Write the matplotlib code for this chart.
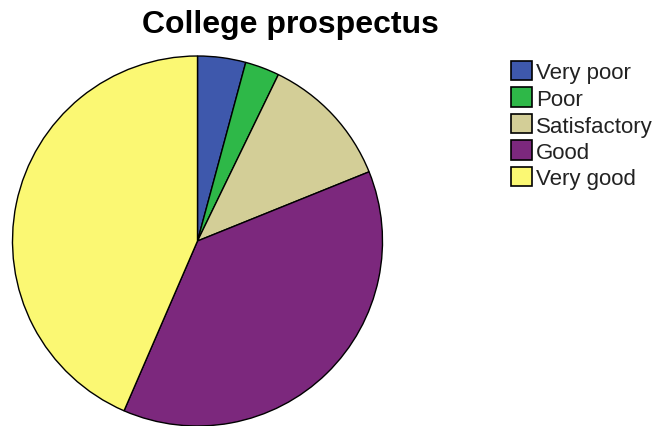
import matplotlib
matplotlib.use("Agg")
from matplotlib import pyplot as plt
from matplotlib.patches import Rectangle

plt.rcParams['font.family'] = ['Liberation Sans', 'DejaVu Sans']

title = "College prospectus"
labels = ["Very poor", "Poor", "Satisfactory", "Good", "Very good"]
percent = [4.2, 3.0, 11.7, 37.6, 43.5]
colors = ["#3e58ac", "#2eb848", "#d3ce97", "#7c287d", "#fbf873"]

W, H = 655, 427
fig = plt.figure(figsize=(W / 100, H / 100), dpi=100)

# pie axes: centre (197.5, 242) px, radius 185 px
cx, cy, r = 197.5, 242, 185
ax = fig.add_axes([(cx - r) / W, (H - cy - r) / H, 2 * r / W, 2 * r / H])
wedges, _ = ax.pie(percent, colors=colors, startangle=90, counterclock=False,
                   wedgeprops=dict(edgecolor="black", linewidth=1.0))
for w in wedges:
    w.set_clip_on(False)
ax.set_xlim(-1, 1)
ax.set_ylim(-1, 1)
ax.set_aspect("equal")
ax.axis("off")

fig.text(290 / W, 1 - 33 / H, title, ha="center", va="baseline",
         fontsize=23, fontweight="bold", color="black")

# legend
y0 = 71.5
step = 26.5
for i, (lab, col) in enumerate(zip(labels, colors)):
    yc = y0 + i * step
    fig.patches.append(Rectangle((511 / W, 1 - (yc + 9.5) / H), 21 / W, 19 / H,
                                 transform=fig.transFigure, facecolor=col,
                                 edgecolor="black", linewidth=1.2))
    fig.text(536 / W, 1 - (yc + 8) / H, lab, ha="left", va="baseline",
             fontsize=16, color="#222222")

fig.savefig("out.png", dpi=100)
